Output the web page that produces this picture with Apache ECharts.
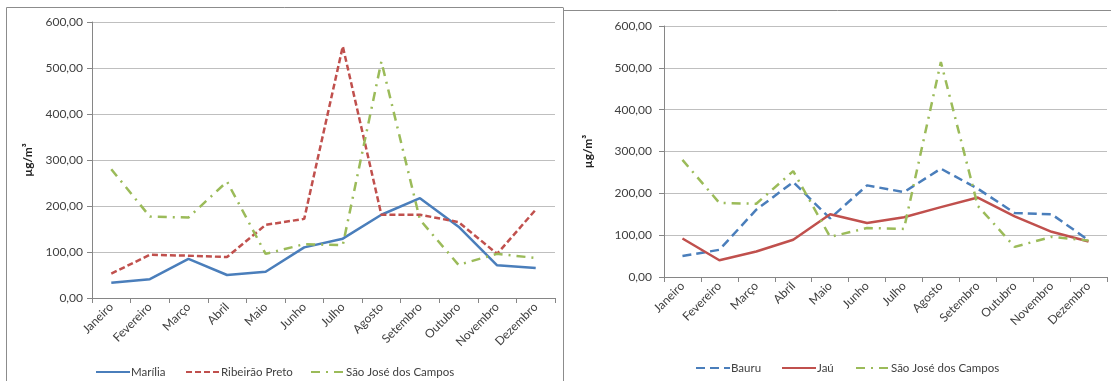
<!DOCTYPE html>
<html>
<head>
<meta charset="utf-8">
<script src="https://cdn.jsdelivr.net/npm/echarts@6/dist/echarts.min.js"></script>
<style>
  html, body { margin: 0; padding: 0; background: #ffffff; }
  #chart { width: 1111px; height: 381px; }
</style>
</head>
<body>
<div id="chart"></div>
<script>
// Monthly concentrations (µg/m³)
const months = ['Janeiro', 'Fevereiro', 'Março', 'Abril', 'Maio', 'Junho', 'Julho', 'Agosto', 'Setembro', 'Outubro', 'Novembro', 'Dezembro'];
const marilia = [33, 41, 85, 50, 57, 110, 129, 181, 217, 155, 71, 65];
const ribeiraoPreto = [53, 94, 92, 89, 159, 172, 547, 181, 181, 165, 96, 192];
const saoJoseDosCampos = [280, 177, 175, 253, 96, 117, 115, 514, 170, 72, 96, 87];
const bauru = [50, 65, 161, 227, 140, 219, 203, 259, 211, 153, 150, 88];
const jau = [92, 40, 61, 89, 150, 129, 143, 167, 190, 145, 108, 85];
const yTicks = { min: 0, max: 600, interval: 100 };
const unitLabel = 'µg/m³';

const FONT = 'Lato';
const TEXT = '#404040';
const BLUE = '#4a7ebb';
const RED = '#c0504d';
const GREEN = '#9bbb59';

const fmt = v => v.toFixed(2).replace('.', ',');

function xAxis(gridIndex) {
  return {
    type: 'category', gridIndex, data: months, boundaryGap: true,
    axisLine: { lineStyle: { color: '#868686', width: 1 } },
    axisTick: { show: true, length: 5, alignWithLabel: false, lineStyle: { color: '#868686' } },
    axisLabel: { rotate: 45, margin: 7, color: TEXT, fontFamily: FONT, fontSize: 12, interval: 0 },
    splitLine: { show: false }
  };
}
function yAxis(gridIndex, nameGap, labelMargin) {
  return {
    type: 'value', gridIndex, min: yTicks.min, max: yTicks.max, interval: yTicks.interval,
    name: unitLabel, nameLocation: 'middle', nameGap,
    nameTextStyle: { color: '#222', fontFamily: FONT, fontSize: 12, fontWeight: 'bold' },
    axisLine: { show: true, lineStyle: { color: '#868686', width: 1 } },
    axisTick: { show: true, length: 5, lineStyle: { color: '#868686' } },
    axisLabel: { formatter: fmt, margin: labelMargin, color: TEXT, fontFamily: FONT, fontSize: 12 },
    splitLine: { show: true, lineStyle: { color: '#bfbfbf', width: 1 } }
  };
}
function line(name, data, axis, color, type) {
  return {
    name, type: 'line', data, xAxisIndex: axis, yAxisIndex: axis,
    symbol: 'none', smooth: false,
    lineStyle: { color, width: 2.5, type },
    itemStyle: { color }
  };
}
function legendItem(name, left, top) {
  return {
    data: [name], left, top, itemWidth: 34, itemHeight: 10, itemGap: 0,
    itemStyle: { opacity: 0 },
    textStyle: { color: TEXT, fontFamily: FONT, fontSize: 11.5, padding: [0, 0, 0, -4] },
    selectedMode: false
  };
}

const dashRP = [6, 3];
const dashBauru = [9, 5];
const dashSJC = [9, 6, 2, 6];

const chart = echarts.init(document.getElementById('chart'), null, { renderer: 'canvas' });
chart.setOption({
  backgroundColor: '#ffffff',
  animation: false,
  grid: [
    { left: 92, top: 22, width: 463, height: 276 },
    { left: 664, top: 26, width: 443, height: 251 }
  ],
  xAxis: [xAxis(0), xAxis(1)],
  yAxis: [yAxis(0, 58, 9), yAxis(1, 70, 12)],
  legend: [
    legendItem('Marília', 90, 361),
    legendItem('Ribeirão Preto', 180, 361),
    legendItem('São José dos Campos', 305, 361),
    legendItem('Bauru', 690, 357),
    legendItem('Jaú', 776, 357),
    legendItem('São José dos Campos ', 850, 357)
  ],
  series: [
    line('Marília', marilia, 0, BLUE, 'solid'),
    line('Ribeirão Preto', ribeiraoPreto, 0, RED, dashRP),
    line('São José dos Campos', saoJoseDosCampos, 0, GREEN, dashSJC),
    line('Bauru', bauru, 1, BLUE, dashBauru),
    line('Jaú', jau, 1, RED, 'solid'),
    line('São José dos Campos ', saoJoseDosCampos, 1, GREEN, dashSJC)
  ],
  graphic: [
    { type: 'polyline', shape: { points: [[6.5, 381], [6.5, 7.5], [563, 7.5]] }, style: { stroke: '#8c8c8c', lineWidth: 1, fill: null } },
    { type: 'polyline', shape: { points: [[563.5, 381], [563.5, 7.5]] }, style: { stroke: '#8c8c8c', lineWidth: 1, fill: null } },
    { type: 'polyline', shape: { points: [[563.5, 10.5], [1111, 10.5]] }, style: { stroke: '#8c8c8c', lineWidth: 1, fill: null } }
  ]
});
</script>
</body>
</html>
